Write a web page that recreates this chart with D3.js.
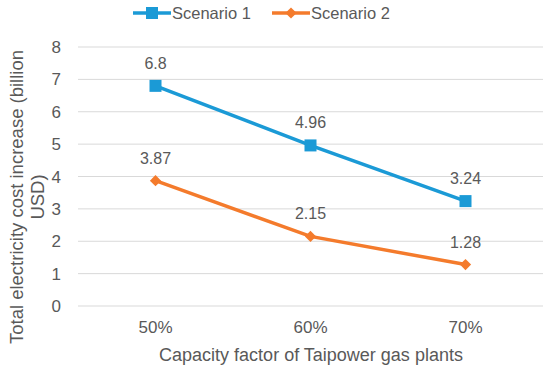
<!DOCTYPE html>
<html>
<head>
<meta charset="utf-8">
<script src="https://cdn.jsdelivr.net/npm/d3@7"></script>
<style>
  body { margin: 0; background: #fff; }
  text { font-family: "Liberation Sans", Arial, sans-serif; fill: #595959; }
</style>
</head>
<body>
<script>
const categories = ["50%", "60%", "70%"];
const scenario1 = [6.8, 4.96, 3.24];
const scenario2 = [3.87, 2.15, 1.28];
const yTicks = [0, 1, 2, 3, 4, 5, 6, 7, 8];
const seriesNames = ["Scenario 1", "Scenario 2"];

const w = 550, h = 367;
const plotLeft = 78, plotRight = 543, plotTop = 47, plotBottom = 306;

const svg = d3.select("body").append("svg")
  .attr("width", w).attr("height", h);

const x = d3.scaleBand().domain(categories).range([plotLeft, plotRight]);
const y = d3.scaleLinear().domain([0, 8]).range([plotBottom, plotTop]);

// gridlines
svg.selectAll("line.grid")
  .data(yTicks)
  .enter().append("line")
  .attr("x1", plotLeft).attr("x2", plotRight)
  .attr("y1", d => y(d)).attr("y2", d => y(d))
  .attr("stroke", "#d9d9d9").attr("stroke-width", 1);

// y tick labels
svg.selectAll("text.ytick")
  .data(yTicks)
  .enter().append("text")
  .attr("x", 61).attr("y", d => y(d) + 6)
  .attr("text-anchor", "end")
  .style("font-size", "17px")
  .text(d => d);

// x tick labels
svg.selectAll("text.xtick")
  .data(categories)
  .enter().append("text")
  .attr("x", d => x(d) + x.bandwidth() / 2)
  .attr("y", 333)
  .attr("text-anchor", "middle")
  .style("font-size", "17px")
  .text(d => d);

// axis titles
svg.append("text")
  .attr("x", 311).attr("y", 361)
  .attr("text-anchor", "middle")
  .style("font-size", "18px")
  .text("Capacity factor of Taipower gas plants");

const yt = svg.append("text")
  .attr("transform", "translate(23,197) rotate(-90)")
  .attr("text-anchor", "middle")
  .style("font-size", "18.5px");
yt.append("tspan").attr("x", 0).attr("dy", 0).text("Total electricity cost increase (billion");
yt.append("tspan").attr("x", 0).attr("dy", 21).text("USD)");

const colors = ["#1b9ad6", "#f47b2c"];
const line = d3.line()
  .x((d, i) => x(categories[i]) + x.bandwidth() / 2)
  .y(d => y(d));

[scenario1, scenario2].forEach((s, k) => {
  svg.append("path")
    .datum(s)
    .attr("d", line)
    .attr("fill", "none")
    .attr("stroke", colors[k])
    .attr("stroke-width", 3.5);

  const cx = (d, i) => x(categories[i]) + x.bandwidth() / 2;
  if (k === 0) {
    svg.selectAll("rect.m" + k)
      .data(s).enter().append("rect")
      .attr("x", (d, i) => cx(d, i) - 6)
      .attr("y", d => y(d) - 6)
      .attr("width", 12).attr("height", 12)
      .attr("fill", colors[k]);
  } else {
    svg.selectAll("path.m" + k)
      .data(s).enter().append("path")
      .attr("d", d3.symbol().type(d3.symbolDiamond2).size(80))
      .attr("transform", (d, i) => "translate(" + cx(d, i) + "," + y(d) + ")")
      .attr("fill", colors[k]);
  }

  svg.selectAll("text.lab" + k)
    .data(s).enter().append("text")
    .attr("x", (d, i) => cx(d, i))
    .attr("y", d => y(d) - 17)
    .attr("text-anchor", "middle")
    .style("font-size", "16px")
    .text(d => d);
});

// legend
const legX = [133, 272];
seriesNames.forEach((n, k) => {
  const g = svg.append("g").attr("transform", "translate(" + legX[k] + ",13)");
  g.append("line").attr("x1", 0).attr("x2", 38).attr("y1", 0).attr("y2", 0)
    .attr("stroke", colors[k]).attr("stroke-width", 3.5);
  if (k === 0) {
    g.append("rect").attr("x", 13).attr("y", -6).attr("width", 12).attr("height", 12)
      .attr("fill", colors[k]);
  } else {
    g.append("path").attr("d", d3.symbol().type(d3.symbolDiamond2).size(80))
      .attr("transform", "translate(19,0)").attr("fill", colors[k]);
  }
  g.append("text").attr("x", 39).attr("y", 6)
    .style("font-size", "16.5px").text(n);
});
</script>
</body>
</html>
